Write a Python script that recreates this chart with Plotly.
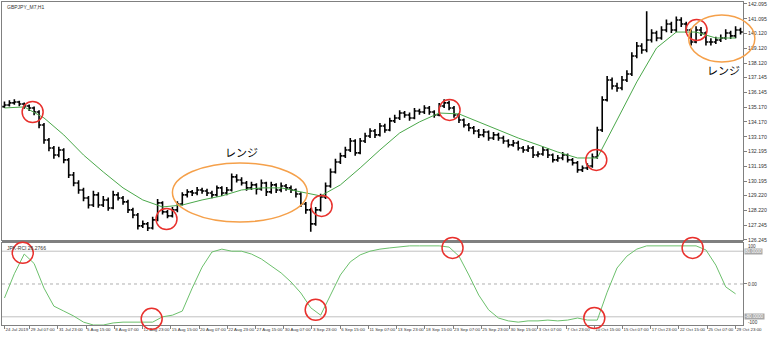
import plotly.graph_objects as go

# ---------------- data ----------------
SYMBOL_LABEL = "GBPJPY_M7,H1"
RCI_LABEL = "JPK-RCI 26.2766"
RANGE_NOTE = "レンジ"

FIRST_OPEN = 135.20
CLOSE = [135.31, 135.45, 135.51, 135.38, 135.24, 135.11, 134.84, 133.97, 132.96, 132.42,
         131.95, 132.29, 131.62, 130.61, 130.07, 129.60, 129.06, 128.59, 129.27, 128.59,
         128.93, 128.39, 129.27, 129.06, 128.80, 128.26, 127.92, 127.19, 127.32, 127.05,
         127.59, 128.73, 128.13, 127.86, 128.26, 128.66, 129.27, 129.47, 129.40, 129.60,
         129.53, 129.40, 129.27, 129.74, 129.40, 129.60, 130.48, 130.27, 130.07, 129.74,
         129.94, 129.67, 130.07, 129.47, 129.94, 129.60, 129.87, 129.74, 129.60, 129.33,
         128.66, 128.26, 127.32, 128.26, 129.13, 129.87, 130.81, 131.48, 131.89, 132.29,
         132.89, 132.09, 132.89, 133.23, 133.56, 133.30, 133.90, 133.63, 134.24, 134.44,
         134.77, 134.64, 134.44, 134.91, 134.84, 135.11, 134.84, 134.64, 135.24, 135.45,
         135.11, 134.64, 134.30, 133.97, 133.77, 133.56, 133.30, 133.50, 133.09, 133.30,
         133.09, 132.89, 132.63, 132.76, 132.42, 132.29, 132.42, 131.95, 132.02, 132.29,
         131.95, 131.62, 131.75, 131.95, 131.62, 131.42, 130.95, 131.08, 131.21, 131.82,
         133.63, 135.65, 136.99, 136.59, 136.45, 136.99, 137.39, 138.60, 139.27, 139.00,
         139.68, 140.15, 139.81, 140.35, 140.75, 140.35, 141.02, 140.75, 140.35, 139.54,
         140.35, 140.15, 139.54, 139.54, 139.68, 139.81, 140.15, 139.95, 140.35, 140.21]
HIGH = [135.55, 135.62, 135.70, 135.60, 135.48, 135.35, 135.20, 134.95, 134.10, 133.10,
        132.55, 132.50, 132.40, 131.75, 130.80, 130.25, 129.75, 129.20, 129.55, 129.45,
        129.20, 129.10, 129.55, 129.45, 129.20, 128.95, 128.40, 128.05, 127.55, 127.45,
        127.80, 129.00, 128.85, 128.25, 128.45, 128.85, 129.45, 129.65, 129.60, 129.80,
        129.75, 129.68, 129.55, 129.90, 129.85, 129.80, 130.70, 130.65, 130.45, 130.20,
        130.15, 130.05, 130.30, 130.15, 130.15, 130.05, 130.10, 130.00, 129.90, 129.70,
        129.45, 128.80, 128.40, 128.45, 129.35, 130.10, 131.05, 131.70, 132.10, 132.50,
        133.10, 133.00, 133.10, 133.45, 133.75, 133.70, 134.10, 134.05, 134.45, 134.65,
        134.95, 134.90, 134.80, 135.10, 135.05, 135.30, 135.25, 134.95, 135.45, 135.70,
        135.60, 135.25, 134.75, 134.40, 134.10, 133.90, 133.70, 133.70, 133.60, 133.50,
        133.45, 133.25, 133.00, 132.95, 132.90, 132.55, 132.60, 132.55, 132.20, 132.50,
        132.40, 132.05, 131.95, 132.15, 132.05, 131.75, 131.55, 131.25, 131.40, 132.05,
        133.85, 135.90, 137.25, 137.15, 136.80, 137.25, 137.65, 138.85, 139.55, 139.45,
        141.60, 140.40, 140.30, 140.60, 141.05, 140.90, 141.25, 141.20, 140.90, 140.45,
        140.60, 140.55, 140.25, 139.80, 139.90, 140.05, 140.40, 140.30, 140.60, 140.50]
LOW = [135.10, 135.20, 135.32, 135.22, 135.05, 134.90, 134.62, 133.75, 132.70, 132.20,
       131.70, 131.80, 131.40, 130.40, 129.85, 129.35, 128.85, 128.35, 128.45, 128.40,
       128.45, 128.20, 128.30, 128.90, 128.60, 128.05, 127.70, 126.95, 127.05, 126.85,
       126.95, 127.50, 127.95, 127.70, 127.75, 128.10, 128.55, 129.10, 129.20, 129.25,
       129.35, 129.20, 129.05, 129.15, 129.20, 129.25, 129.50, 130.10, 129.90, 129.55,
       129.60, 129.30, 129.55, 129.20, 129.35, 129.40, 129.45, 129.55, 129.40, 129.10,
       128.45, 128.00, 126.80, 127.20, 128.15, 129.00, 129.75, 130.70, 131.35, 131.75,
       132.15, 131.90, 132.00, 132.75, 133.10, 133.10, 133.20, 133.45, 133.55, 134.10,
       134.30, 134.45, 134.25, 134.35, 134.65, 134.70, 134.65, 134.45, 134.55, 135.10,
       134.95, 134.45, 134.10, 133.80, 133.55, 133.35, 133.10, 133.15, 132.90, 132.95,
       132.90, 132.70, 132.45, 132.50, 132.25, 132.10, 132.15, 131.75, 131.80, 131.90,
       131.75, 131.45, 131.50, 131.60, 131.45, 131.25, 130.75, 130.80, 130.95, 131.10,
       131.70, 133.50, 135.55, 136.35, 136.20, 136.30, 136.85, 137.25, 138.45, 138.75,
       138.85, 139.50, 139.60, 139.70, 140.20, 140.15, 140.20, 140.55, 140.15, 139.30,
       139.45, 139.95, 139.30, 139.30, 139.40, 139.55, 139.70, 139.75, 139.80, 140.05]

MA_STEP = 4  # moving average read every 4th bar
MA = [135.11, 135.18, 134.44, 133.30, 131.95, 130.81, 129.74, 128.93, 128.46, 128.59,
      128.93, 129.20, 129.60, 129.74, 129.74, 129.47, 129.20, 129.94, 131.08, 132.29,
      133.43, 134.17, 134.77, 134.71, 134.17, 133.63, 133.09, 132.63, 132.15, 131.75,
      131.75, 134.30, 136.86, 139.14, 140.21, 140.21, 139.81, 139.81]

RCI_STEP = 2  # RCI read every 2nd bar
RCI = [-34, 25, 73, 50, -10, -54, -66, -78, -93, -100,
       -100, -95, -93, -93, -93, -93, -80, -76, -66, -10,
       41, 78, 85, 80, 80, 73, 61, 44, 27, 5,
       -22, -58, -76, -27, 22, 54, 71, 80, 85, 88,
       90, 93, 93, 93, 93, 90, 68, 22, -27, -63,
       -83, -90, -93, -90, -90, -88, -90, -88, -83, -88,
       -88, -20, 39, 68, 85, 93, 93, 93, 93, 93,
       93, 83, 46, -7, -24]

TICK_LABELS = ["24 Jul 2019", "29 Jul 07:00", "31 Jul 23:00", "5 Aug 15:00", "8 Aug 07:00",
               "12 Aug 23:00", "15 Aug 15:00", "20 Aug 07:00", "22 Aug 23:00", "27 Aug 15:00",
               "30 Aug 07:00", "3 Sep 23:00", "6 Sep 15:00", "11 Sep 07:00", "13 Sep 23:00",
               "18 Sep 15:00", "23 Sep 07:00", "25 Sep 23:00", "30 Sep 15:00", "3 Oct 07:00",
               "7 Oct 23:00", "10 Oct 15:00", "15 Oct 07:00", "17 Oct 23:00", "22 Oct 15:00",
               "25 Oct 07:00", "29 Oct 23:00"]
PRICE_TICKS = [142.095, 141.095, 140.120, 139.120, 138.120, 137.145, 136.145, 135.170,
               134.170, 133.170, 132.195, 131.195, 130.195, 129.220, 128.220, 127.245, 126.245]
RCI_ZERO_TICK = [0]
RCI_ZERO_TEXT = ["0.00"]
RCI_BOUNDS = [100, -100]
LEVELS = [80, -80]

# marked points (bar index, value)
PRICE_MARKS = [(5.7, 134.84), (32.8, 127.65), (64.2, 128.53), (90.1, 134.98), (119.8, 131.62), (140.1, 140.35)]
RCI_MARKS = [(3.7, 76), (29.8, -85), (63.0, -63), (90.7, 88), (119.4, -83), (139.3, 88)]
RANGE_BOXES = [(34.0, 61.3, 127.45, 131.42), (138.5, 151.9, 138.20, 141.36)]
RANGE_NOTES = [(47.9, 132.15), (145.5, 137.66)]

# ---------------- layout constants ----------------
W, H = 768, 337
ML, MR, MT, MB = 1, 20, 2, 12
MAIN_DOM = [0.2632, 1.0]
SUB_DOM = [0.0, 0.2539]
XR = [-0.5, len(CLOSE) - 0.5]
YR = [126.24, 142.229]
Y2R = [-100, 100]
BAR_HOURS = 11.2
GRID_HOURS = 64
FIRST_GRID = 5.1
GRAY = "#808080"
FONT = "Liberation Sans"

x = list(range(len(CLOSE)))
OPEN = [FIRST_OPEN] + CLOSE[:-1]
ma_x = [i * MA_STEP for i in range(len(MA))]
rci_x = [i * RCI_STEP for i in range(len(RCI))]
tickvals = [0] + [FIRST_GRID + k * GRID_HOURS / BAR_HOURS for k in range(len(TICK_LABELS) - 1)]

fig = go.Figure()
fig.add_trace(go.Ohlc(x=x, open=OPEN, high=HIGH, low=LOW, close=CLOSE,
                      increasing=dict(line=dict(color="black", width=1.6)),
                      decreasing=dict(line=dict(color="black", width=1.6)),
                      tickwidth=0.45, xaxis="x", yaxis="y", showlegend=False, hoverinfo="skip"))
fig.add_trace(go.Scatter(x=ma_x, y=MA, mode="lines", line=dict(color="#4aa84a", width=1),
                         xaxis="x", yaxis="y", showlegend=False, hoverinfo="skip"))
fig.add_trace(go.Scatter(x=rci_x, y=RCI, mode="lines", line=dict(color="#6cc06c", width=1),
                         xaxis="x2", yaxis="y2", showlegend=False, hoverinfo="skip"))


def px_(v):
    return (v - XR[0]) / (XR[1] - XR[0])


def py_main(v):
    return MAIN_DOM[0] + (v - YR[0]) / (YR[1] - YR[0]) * (MAIN_DOM[1] - MAIN_DOM[0])


def py_sub(v):
    return SUB_DOM[0] + (v - Y2R[0]) / (Y2R[1] - Y2R[0]) * (SUB_DOM[1] - SUB_DOM[0])


shapes = []
shapes.append(dict(type="rect", xref="paper", yref="paper", x0=0, x1=1, y0=SUB_DOM[1], y1=MAIN_DOM[0],
                   fillcolor=GRAY, line=dict(width=0), layer="above"))
for lv in LEVELS:
    shapes.append(dict(type="line", xref="paper", yref="y2", x0=0, x1=1, y0=lv, y1=lv,
                       line=dict(color="#c0c0c0", width=1), layer="below"))
shapes.append(dict(type="line", xref="paper", yref="y2", x0=0, x1=1, y0=0, y1=0,
                   line=dict(color="#b0b0b0", width=1, dash="dot"), layer="below"))
R = 10.5
for bx, v in PRICE_MARKS:
    shapes.append(dict(type="circle", xref="paper", yref="paper", xsizemode="pixel", ysizemode="pixel",
                       xanchor=px_(bx), yanchor=py_main(v), x0=-R, x1=R, y0=-R, y1=R,
                       line=dict(color="#e8302c", width=1.5)))
for bx, v in RCI_MARKS:
    shapes.append(dict(type="circle", xref="paper", yref="paper", xsizemode="pixel", ysizemode="pixel",
                       xanchor=px_(bx), yanchor=py_sub(v), x0=-R, x1=R, y0=-R, y1=R,
                       line=dict(color="#e8302c", width=1.5)))
for x0, x1, y0, y1 in RANGE_BOXES:
    shapes.append(dict(type="circle", xref="paper", yref="paper",
                       x0=px_(x0), x1=px_(x1), y0=py_main(y0), y1=py_main(y1),
                       line=dict(color="#f5a04a", width=1.5)))

annotations = []
for bx, v in RANGE_NOTES:
    annotations.append(dict(x=bx, y=v, xref="x", yref="y", text=RANGE_NOTE, showarrow=False,
                            font=dict(family="Noto Sans CJK JP", size=11, color="black")))
annotations.append(dict(x=0.004, y=1, xref="paper", yref="paper", xanchor="left", yanchor="top",
                        text=SYMBOL_LABEL, showarrow=False, font=dict(family=FONT, size=5, color="#333")))
annotations.append(dict(x=0.004, y=SUB_DOM[1], xref="paper", yref="paper", xanchor="left", yanchor="top",
                        text=RCI_LABEL, showarrow=False, font=dict(family=FONT, size=5, color="#333")))
for lv in LEVELS:
    annotations.append(dict(x=1, y=lv, xref="paper", yref="y2", xanchor="left", yanchor="middle",
                            text=f"{lv:.4f}", showarrow=False, bgcolor="#a8a8a8", borderpad=0,
                            xshift=1, font=dict(family=FONT, size=4.6, color="white")))
# 100 / -100 labels of the sub-window (placed just inside the bounds)
annotations.append(dict(x=1, y=RCI_BOUNDS[0], xref="paper", yref="y2", xanchor="left", yanchor="top",
                        text=str(RCI_BOUNDS[0]), showarrow=False, xshift=3, yshift=1,
                        font=dict(family=FONT, size=4.6, color="#333")))
annotations.append(dict(x=1, y=RCI_BOUNDS[1], xref="paper", yref="y2", xanchor="left", yanchor="bottom",
                        text=str(RCI_BOUNDS[1]), showarrow=False, xshift=3, yshift=-2,
                        font=dict(family=FONT, size=4.6, color="#333")))

axis_common = dict(showgrid=False, zeroline=False, linecolor=GRAY, linewidth=1, showline=True)
fig.update_layout(
    width=W, height=H, margin=dict(l=ML, r=MR, t=MT, b=MB),
    paper_bgcolor="white", plot_bgcolor="white",
    shapes=shapes, annotations=annotations,
    xaxis=dict(domain=[0, 1], anchor="y", range=XR, mirror=True, showticklabels=False, ticks="",
               rangeslider=dict(visible=False), **axis_common),
    yaxis=dict(domain=MAIN_DOM, anchor="x", side="right", range=YR, tickvals=PRICE_TICKS,
               ticktext=[f"{t:.3f}" for t in PRICE_TICKS], ticks="outside", ticklen=3, tickcolor=GRAY,
               tickfont=dict(family=FONT, size=5.2, color="#333"), mirror=True, **axis_common),
    xaxis2=dict(domain=[0, 1], anchor="y2", matches="x", range=XR, mirror=True, tickvals=tickvals,
                ticktext=TICK_LABELS, ticks="outside", ticklen=3, tickcolor=GRAY,
                ticklabelposition="outside right", ticklabeloverflow="allow",
                tickfont=dict(family=FONT, size=4.4, color="#333"), tickangle=0, **axis_common),
    yaxis2=dict(domain=SUB_DOM, anchor="x2", side="right", range=Y2R, tickvals=RCI_ZERO_TICK,
                ticktext=RCI_ZERO_TEXT, ticks="outside", ticklen=3, tickcolor=GRAY,
                tickfont=dict(family=FONT, size=4.6, color="#333"), mirror=True, **axis_common),
)

fig.write_html("out.html")
